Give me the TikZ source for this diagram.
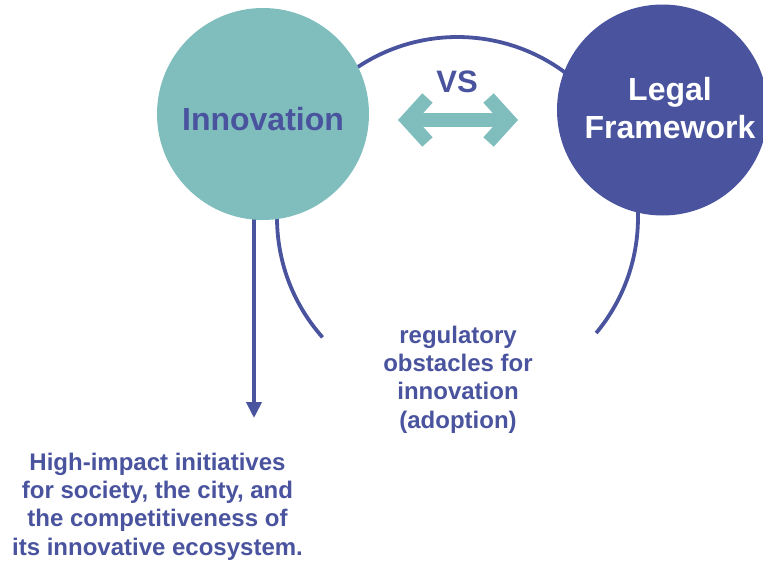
\documentclass[tikz,border=0pt]{standalone}
\usepackage{fontspec}
\setmainfont{Liberation Sans}
\usepackage{tikz}
\usetikzlibrary{arrows.meta}
\definecolor{innoteal}{RGB}{128,190,190}
\definecolor{lawblue}{RGB}{73,83,158}

\begin{document}
\begin{tikzpicture}[x=1pt,y=-1pt]
    \tikzstyle{bubble} = [circle, inner sep=0pt, align=center,
    font=\bfseries\fontsize{32}{38}\selectfont]
    \tikzstyle{caption} = [align=center, text=lawblue,
    font=\bfseries\fontsize{24}{28.4}\selectfont]
    \tikzstyle{ring} = [draw=lawblue, line width=3.8pt]
    \tikzstyle{versus} = [draw=innoteal, line width=14pt,
    {Straight Barb[length=20pt,width=44pt]}-{Straight Barb[length=20pt,width=44pt]}]

    \useasboundingbox (0,0) rectangle (763,560);

    \coordinate (hub) at (457.5,217.5);
    \coordinate (impact) at (254,418);
    \coordinate (vsL) at (398,120);
    \coordinate (vsR) at (518,120);

    \draw [ring] (hub) ++(138.4:180.5) arc [start angle=138.4, end angle=399.8, radius=180.5];
    \draw [ring, -{Triangle[length=16pt,width=15pt]}] (impact |- hub) -- (impact);

    \node [bubble, fill=innoteal, text=lawblue, minimum size=212pt,
    text height=32pt, text depth=0pt] (inno) at (263,114) {Innovation};
    \node [bubble, fill=lawblue, text=white, minimum size=211pt] (law) at (662.5,110) {};
    \node [bubble, text=white] (lawtext) at (670,108) {Legal\\Framework};

    \node [text=lawblue, font=\bfseries\fontsize{31}{31}\selectfont] (vs) at (457,82) {VS};
    \draw [versus] (vsL) -- (vsR);

    \node [caption] (obstacles) at (458,379.5) {regulatory\\obstacles for\\innovation\\(adoption)};
    \node [caption] (impacts) at (157.5,506.5) {High-impact initiatives\\for society, the city, and\\the competitiveness of\\its innovative ecosystem.};
\end{tikzpicture}
\end{document}
